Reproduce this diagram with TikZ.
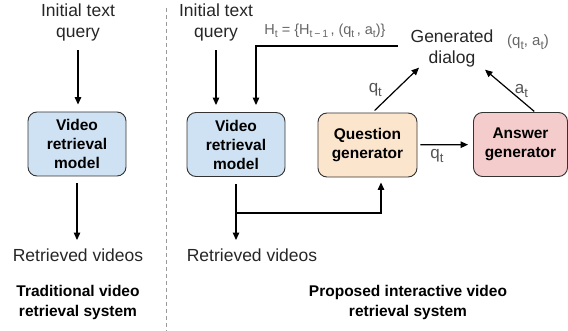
\documentclass[tikz,border=0pt]{standalone}
\usepackage{fontspec}
\setmainfont{Liberation Sans}
\usetikzlibrary{arrows.meta}

\definecolor{modelblue}{HTML}{CFE2F3}
\definecolor{questorange}{HTML}{FCE5CD}
\definecolor{answerpink}{HTML}{F4CCCC}
\definecolor{edgegray}{HTML}{333333}
\definecolor{labelgray}{HTML}{555555}

\newcommand{\lowsub}[2]{\raisebox{-0.45ex}{\fontsize{#1}{#1}\selectfont #2}}

\begin{document}
\begin{tikzpicture}[x=1pt, y=-1pt,
  box/.style = {draw=edgegray, line width=0.9pt, rounded corners=9pt, align=center,
                minimum width=98pt, minimum height=64pt,
                font=\bfseries\fontsize{15.5}{19}\selectfont},
  txt/.style = {align=center, text=black!85, font=\fontsize{17.5}{21}\selectfont},
  caption/.style = {align=center, font=\bfseries\fontsize{15.5}{20}\selectfont},
  lbl/.style = {text=labelgray, font=\fontsize{17}{19}\selectfont},
  small/.style = {text=labelgray!90, font=\fontsize{15}{17}\selectfont},
  arr/.style = {line width=1.2pt, -{Triangle[length=7.5pt, width=6.5pt]}},
]

\useasboundingbox (0,0) rectangle (568,331);

% Traditional system on the left
\node[txt] (query1) at (78,22) {Initial text\\query};
\node[box, fill=modelblue] (model1) at (77,144) {Video\\retrieval\\model};
\node[txt] (videos1) at (78,255) {Retrieved videos};
\node[caption] (cap1) at (78,302) {Traditional video\\retrieval system};

\draw[arr, shorten <=6pt, shorten >=7pt] (query1) -- (query1 |- model1.north);
\draw[arr, shorten <=7pt, shorten >=5pt] (model1.south) -- (model1.south |- videos1.north);

% Dashed divider
\coordinate (divtop) at (166,8);
\coordinate (divbot) at (166,331);
\draw[gray!80, line width=0.8pt, dash pattern=on 4pt off 3pt] (divtop) -- (divbot);

% Interactive system on the right
\node[txt] (query2) at (216,22) {Initial text\\query};
\node[box, fill=modelblue] (model2) at (236,144.5) {Video\\retrieval\\model};
\node[box, fill=questorange, minimum width=99pt] (qgen) at (367.5,145) {Question\\generator};
\node[box, fill=answerpink, minimum width=94pt] (agen) at (520.5,144.5) {Answer\\generator};
\node[txt] (dialog) at (452,48.5) {Generated\\dialog};
\node[small] (pair) at (528,42) {(q\lowsub{12}{t}, a\lowsub{12}{t})};
\node[small, font=\fontsize{14.5}{16}\selectfont] (hist) at (325,31)
  {H\lowsub{10.5}{t} = \{H\lowsub{10.5}{t\,\textminus\,1}\,, (q\lowsub{10.5}{t}\,, a\lowsub{10.5}{t})\}};
\node[txt] (videos2) at (252,255) {Retrieved videos};
\node[caption] (cap2) at (408,302) {Proposed interactive video\\retrieval system};

% Query into the model
\draw[arr, shorten <=6pt, shorten >=7pt] (query2) -- (query2 |- model2.north);

% Dialog history back into the model
\coordinate (histstart) at (398,46);
\draw[arr, shorten >=7pt] (histstart) -| ([xshift=20pt]model2.north);

% Model output: videos and question generator
\coordinate (branch) at (236,213);
\draw[arr, shorten <=7pt, shorten >=5pt] (model2.south) -- (model2.south |- videos2.north);
\draw[arr, shorten >=5pt] (branch) -| ([xshift=13.5pt]qgen.south);

% Question to answer
\draw[arr, shorten <=3pt, shorten >=5pt] (qgen) -- (agen)
  node[lbl, pos=0.35, below=1pt] {q\lowsub{13}{t}};

% Both into the generated dialog
\draw[arr, shorten <=3pt] ([xshift=5pt]qgen.north) -- ([xshift=-33pt, yshift=3pt]dialog.south)
  node[lbl, midway, left=10pt] {q\lowsub{13}{t}};
\draw[arr, shorten <=1pt] ([xshift=14.5pt]agen.north) -- ([xshift=33pt, yshift=1pt]dialog.south)
  node[lbl, midway, right=1pt] {a\lowsub{13}{t}};

\end{tikzpicture}
\end{document}
